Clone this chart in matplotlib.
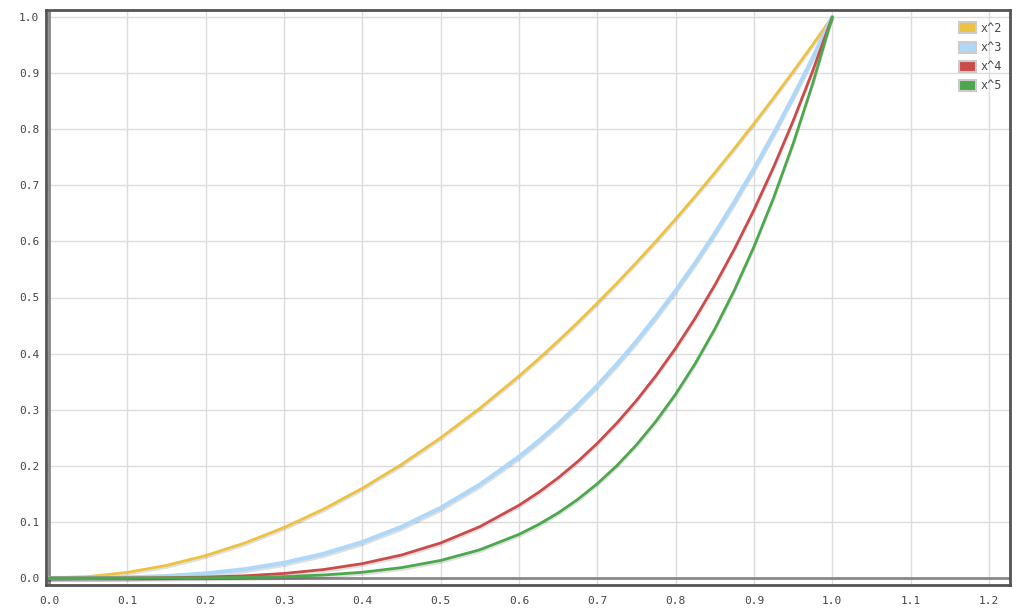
import matplotlib
matplotlib.use('Agg')
import matplotlib.pyplot as plt
import matplotlib.patheffects as pe
from matplotlib.patches import Patch

# values; finer sampling where the curves bend hard
xs = [0.0, 0.05, 0.1, 0.15, 0.2, 0.25, 0.3, 0.35, 0.4, 0.45, 0.5, 0.55, 0.6,
      0.625, 0.65, 0.675, 0.7, 0.725, 0.75, 0.775, 0.8, 0.825, 0.85, 0.875,
      0.9, 0.925, 0.95, 0.975, 1.0]
sq = [0.0, 0.0025, 0.01, 0.0225, 0.04, 0.0625, 0.09, 0.1225, 0.16, 0.2025, 0.25, 0.3025, 0.36,
      0.3906, 0.4225, 0.4556, 0.49, 0.5256, 0.5625, 0.6006, 0.64, 0.6806, 0.7225, 0.7656,
      0.81, 0.8556, 0.9025, 0.9506, 1.0]
cube = [0.0, 0.0001, 0.001, 0.0034, 0.008, 0.0156, 0.027, 0.0429, 0.064, 0.0911, 0.125, 0.1664, 0.216,
        0.2441, 0.2746, 0.3075, 0.343, 0.3811, 0.4219, 0.4655, 0.512, 0.5615, 0.6141, 0.6699,
        0.729, 0.7915, 0.8574, 0.9269, 1.0]
quart = [0.0, 0.0, 0.0001, 0.0005, 0.0016, 0.0039, 0.0081, 0.015, 0.0256, 0.041, 0.0625, 0.0915, 0.1296,
         0.1526, 0.1785, 0.2076, 0.2401, 0.2763, 0.3164, 0.3608, 0.4096, 0.4632, 0.522, 0.5862,
         0.6561, 0.7321, 0.8145, 0.9037, 1.0]
quint = [0.0, 0.0, 0.0, 0.0001, 0.0003, 0.001, 0.0024, 0.0053, 0.0102, 0.0185, 0.0313, 0.0503, 0.0778,
         0.0954, 0.116, 0.1401, 0.1681, 0.2003, 0.2373, 0.2796, 0.3277, 0.3822, 0.4437, 0.5129,
         0.5905, 0.6772, 0.7738, 0.8811, 1.0]

labels = ['x^2', 'x^3', 'x^4', 'x^5']
colors = ['#edc240', '#afd8f8', '#cb4b4b', '#4da74d']
widths = [2.0, 3.0, 2.0, 2.0]
xticks = [0.0, 0.1, 0.2, 0.3, 0.4, 0.5, 0.6, 0.7, 0.8, 0.9, 1.0, 1.1, 1.2]
yticks = [0.0, 0.1, 0.2, 0.3, 0.4, 0.5, 0.6, 0.7, 0.8, 0.9, 1.0]

fig = plt.figure(figsize=(10.19, 6.10), dpi=100)
ax = fig.add_axes([46 / 1019, 1 - 585 / 610, (1010 - 46) / 1019, (585 - 10) / 610])

ax.set_xlim(-0.004, 1.227)
ax.set_ylim(-0.0125, 1.0125)

ax.set_xticks(xticks)
ax.set_yticks(yticks)
ax.set_xticklabels([f'{v:.1f}' for v in xticks])
ax.set_yticklabels([f'{v:.1f}' for v in yticks])
ax.tick_params(length=0, labelsize=8, labelcolor='#444444')
ax.tick_params(axis='x', pad=8)
ax.tick_params(axis='y', pad=5)
for t in ax.get_xticklabels() + ax.get_yticklabels():
    t.set_family('DejaVu Sans Mono')

ax.grid(True, color='#dcdcdc', linewidth=1)
ax.set_axisbelow(True)
ax.axhline(0, color='#888888', linewidth=2, zorder=1.5)
ax.axvline(0, color='#888888', linewidth=2, zorder=1.5)

for s in ax.spines.values():
    s.set_color('#545454')
    s.set_linewidth(2)

series = [sq, cube, quart, quint]
for ys, lab, c, w in zip(series, labels, colors, widths):
    ax.plot(xs, ys, color=c, linewidth=w, label=lab, solid_capstyle='round',
            solid_joinstyle='round',
            path_effects=[pe.SimpleLineShadow(offset=(0, -1.5), shadow_color='k', alpha=0.12),
                          pe.Normal()])

handles = [Patch(facecolor=c, edgecolor='#cccccc', linewidth=1.5) for c in colors]
leg = ax.legend(handles, labels, loc='upper right', frameon=False,
                bbox_to_anchor=(1.0, 0.9935), handlelength=1.4, handleheight=1.05,
                handletextpad=0.4, labelspacing=0.52, borderaxespad=0.3,
                prop={'family': 'DejaVu Sans Mono', 'size': 8.5})
for t in leg.get_texts():
    t.set_color('#444444')

fig.savefig('out.png', dpi=100)
